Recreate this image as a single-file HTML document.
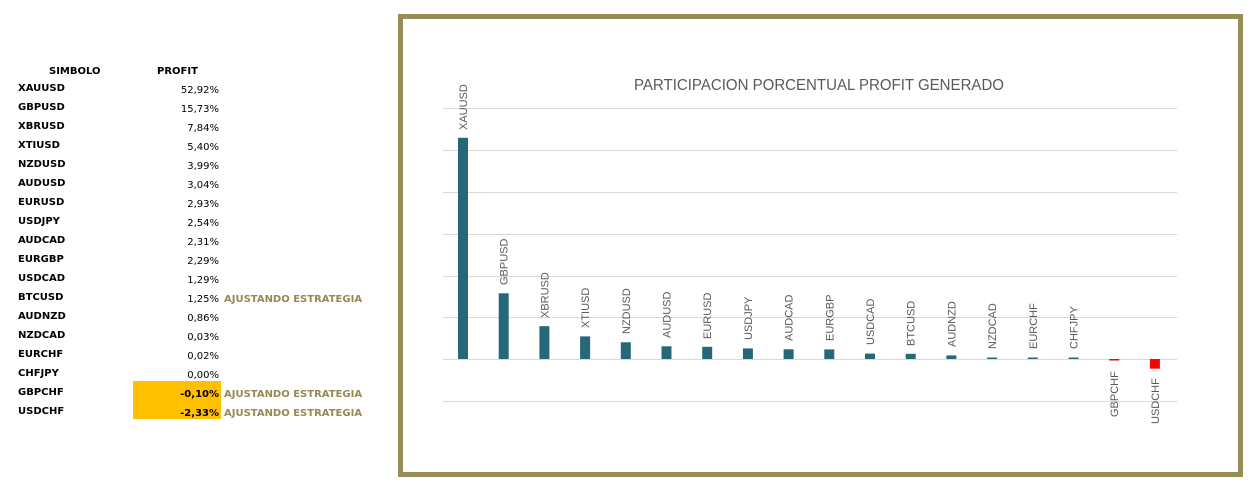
<!DOCTYPE html>
<html><head><meta charset="utf-8"><style>
html,body{margin:0;padding:0;background:#fff;width:1255px;height:493px;overflow:hidden}
</style></head><body>
<svg width="1255" height="493" xmlns="http://www.w3.org/2000/svg">
<g font-family="'DejaVu Sans', Verdana, sans-serif" font-size="10" fill="#000">
<text x="49" y="74" font-weight="bold">SIMBOLO</text>
<text x="157" y="74" font-weight="bold">PROFIT</text>
<rect x="133" y="381" width="88" height="38" fill="#ffc000"/>
<g font-weight="bold">
<text x="18" y="91">XAUUSD</text><text x="18" y="110">GBPUSD</text><text x="18" y="129">XBRUSD</text>
<text x="18" y="148">XTIUSD</text><text x="18" y="167">NZDUSD</text><text x="18" y="186">AUDUSD</text>
<text x="18" y="205">EURUSD</text><text x="18" y="224">USDJPY</text><text x="18" y="243">AUDCAD</text>
<text x="18" y="262">EURGBP</text><text x="18" y="281">USDCAD</text><text x="18" y="300">BTCUSD</text>
<text x="18" y="319">AUDNZD</text><text x="18" y="338">NZDCAD</text><text x="18" y="357">EURCHF</text>
<text x="18" y="376">CHFJPY</text><text x="18" y="395">GBPCHF</text><text x="18" y="414">USDCHF</text>
</g>
<g text-anchor="end">
<text x="219" y="93">52,92%</text><text x="219" y="112">15,73%</text><text x="219" y="131">7,84%</text>
<text x="219" y="150">5,40%</text><text x="219" y="169">3,99%</text><text x="219" y="188">3,04%</text>
<text x="219" y="207">2,93%</text><text x="219" y="226">2,54%</text><text x="219" y="245">2,31%</text>
<text x="219" y="264">2,29%</text><text x="219" y="283">1,29%</text><text x="219" y="302">1,25%</text>
<text x="219" y="321">0,86%</text><text x="219" y="340">0,03%</text><text x="219" y="359">0,02%</text>
<text x="219" y="378">0,00%</text>
<text x="219" y="397" font-weight="bold">-0,10%</text><text x="219" y="416" font-weight="bold">-2,33%</text>
</g>
<g font-weight="bold" fill="#948a54">
<text x="224" y="302">AJUSTANDO ESTRATEGIA</text>
<text x="224" y="397">AJUSTANDO ESTRATEGIA</text>
<text x="224" y="416">AJUSTANDO ESTRATEGIA</text>
</g>
</g>
<rect x="400.5" y="16.5" width="840" height="458" fill="none" stroke="#978d57" stroke-width="5"/>
<text x="634" y="90" font-family="'Liberation Sans', sans-serif" font-size="16" fill="#595959" textLength="370" lengthAdjust="spacingAndGlyphs">PARTICIPACION PORCENTUAL PROFIT GENERADO</text>
<g stroke="#d9d9d9" stroke-width="1">
<line x1="443" x2="1177" y1="108.5" y2="108.5"/><line x1="443" x2="1177" y1="150.5" y2="150.5"/>
<line x1="443" x2="1177" y1="192.5" y2="192.5"/><line x1="443" x2="1177" y1="234.5" y2="234.5"/>
<line x1="443" x2="1177" y1="276.5" y2="276.5"/><line x1="443" x2="1177" y1="317.5" y2="317.5"/>
<line x1="443" x2="1177" y1="359.5" y2="359.5"/><line x1="443" x2="1177" y1="401.5" y2="401.5"/>
</g>
<g fill="#266878">
<rect x="458" y="137.8" width="10" height="221.2"/>
<rect x="498.7" y="293.3" width="10" height="65.7"/>
<rect x="539.4" y="326.2" width="10" height="32.8"/>
<rect x="580.1" y="336.4" width="10" height="22.6"/>
<rect x="620.8" y="342.3" width="10" height="16.7"/>
<rect x="661.5" y="346.3" width="10" height="12.7"/>
<rect x="702.2" y="346.8" width="10" height="12.2"/>
<rect x="742.9" y="348.4" width="10" height="10.6"/>
<rect x="783.6" y="349.3" width="10" height="9.7"/>
<rect x="824.3" y="349.4" width="10" height="9.6"/>
<rect x="865" y="353.6" width="10" height="5.4"/>
<rect x="905.7" y="353.8" width="10" height="5.2"/>
<rect x="946.4" y="355.4" width="10" height="3.6"/>
<rect x="987.1" y="357.5" width="10" height="1.5"/>
<rect x="1027.8" y="357.5" width="10" height="1.5"/>
<rect x="1068.5" y="357.5" width="10" height="1.5"/>
</g>
<g fill="#ff0000">
<rect x="1109.2" y="359" width="10" height="1.5"/>
<rect x="1149.9" y="359" width="10" height="9.7"/>
</g>
<g font-family="'Liberation Sans', sans-serif" font-size="11" fill="#595959">
<text transform="translate(467,130) rotate(-90)">XAUUSD</text>
<text transform="translate(507.7,285) rotate(-90)">GBPUSD</text>
<text transform="translate(548.4,318) rotate(-90)">XBRUSD</text>
<text transform="translate(589.1,328) rotate(-90)">XTIUSD</text>
<text transform="translate(629.8,334) rotate(-90)">NZDUSD</text>
<text transform="translate(670.5,338) rotate(-90)">AUDUSD</text>
<text transform="translate(711.2,339) rotate(-90)">EURUSD</text>
<text transform="translate(751.9,340) rotate(-90)">USDJPY</text>
<text transform="translate(792.6,341) rotate(-90)">AUDCAD</text>
<text transform="translate(833.3,341) rotate(-90)">EURGBP</text>
<text transform="translate(874,345) rotate(-90)">USDCAD</text>
<text transform="translate(914.7,346) rotate(-90)">BTCUSD</text>
<text transform="translate(955.4,347) rotate(-90)">AUDNZD</text>
<text transform="translate(996.1,349) rotate(-90)">NZDCAD</text>
<text transform="translate(1036.8,349) rotate(-90)">EURCHF</text>
<text transform="translate(1077.5,349) rotate(-90)">CHFJPY</text>
<text transform="translate(1118.2,417) rotate(-90)">GBPCHF</text>
<text transform="translate(1158.9,424) rotate(-90)">USDCHF</text>
</g>
</svg>
</body></html>
